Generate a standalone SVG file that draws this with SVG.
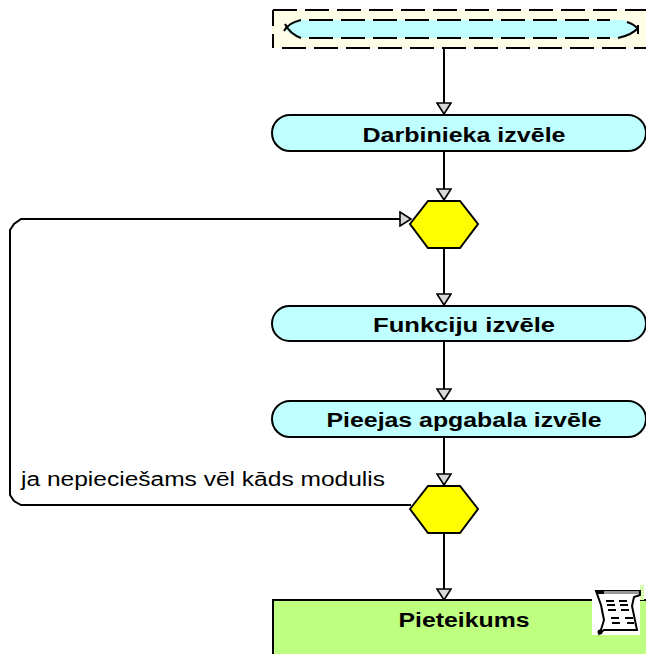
<svg xmlns="http://www.w3.org/2000/svg" width="646" height="654" viewBox="0 0 646 654">
<style>
.pill{fill:#bfffff;stroke:#000;stroke-width:2}
.hex{fill:#ffff00;stroke:#000;stroke-width:2;stroke-linejoin:miter}
.c{fill:none;stroke:#000;stroke-width:2}
.t{font-family:"Liberation Sans",Arial,sans-serif;font-weight:bold;font-size:20px;text-anchor:middle;fill:#000}
.l{font-family:"Liberation Sans",Arial,sans-serif;font-size:20px;fill:#000}
.d{fill:none;stroke:#000;stroke-width:2;stroke-dasharray:24 8}
</style>
<defs>
<marker id="a" markerUnits="userSpaceOnUse" markerWidth="14" markerHeight="16" refX="12" refY="8" orient="auto">
<path d="M1 1 L12 8 L1 15 Z" fill="#d8d8d8" stroke="#000" stroke-width="1.6"/>
</marker>
</defs>
<g id="connectors">
<path class="c" d="M444 49V114" marker-end="url(#a)"/>
<path class="c" d="M444 152V200" marker-end="url(#a)"/>
<path class="c" d="M444 249V305" marker-end="url(#a)"/>
<path class="c" d="M444 341V400" marker-end="url(#a)"/>
<path class="c" d="M444 437V485" marker-end="url(#a)"/>
<path class="c" d="M444 534V600" marker-end="url(#a)"/>
<path class="c" d="M411 505H21L14 501L10 495V230L14 224L21 219H411" marker-end="url(#a)"/>
</g>
<g id="start">
<rect x="272" y="10" width="374" height="38" fill="#ffffe8"/>
<path d="M300 20H624Q634 23 638 29Q632 35 618 38H300Q290 35 285 29Q290 23 300 20Z" fill="#bfffff"/>
<path class="d" d="M273 10H646"/>
<path class="d" d="M282 48H646"/>
<path class="d" d="M273 10V48" stroke-dashoffset="8"/>
<path class="d" d="M309 20H610"/>
<path class="d" d="M309 38H610" />
<path class="c" d="M301 20Q288 23 284 31M285 24Q290 34 301 38M618 38Q632 35 638 28M627 22Q634 24 638 29M638 25V34"/>
</g>
<g id="n1"><rect class="pill" x="272" y="115" width="374" height="36" rx="18"/><text class="t" x="464" y="142" textLength="203" lengthAdjust="spacingAndGlyphs">Darbinieka izvēle</text></g>
<g id="d1"><polygon class="hex" points="410,224 428,201 460,201 478,224 460,248 428,248"/></g>
<g id="n2"><rect class="pill" x="272" y="306" width="374" height="35" rx="17.5"/><text class="t" x="464" y="332" textLength="182" lengthAdjust="spacingAndGlyphs">Funkciju izvēle</text></g>
<g id="n3"><rect class="pill" x="272" y="401" width="374" height="36" rx="18"/><text class="t" x="464" y="427" textLength="275" lengthAdjust="spacingAndGlyphs">Pieejas apgabala izvēle</text></g>
<g id="d2"><polygon class="hex" points="410,509 428,486 460,486 478,509 460,533 428,533"/></g>
<text class="l" x="21" y="486" textLength="364" lengthAdjust="spacingAndGlyphs">ja nepieciešams vēl kāds modulis</text>
<g id="n4">
<rect x="273" y="600" width="373" height="54" fill="#bfff80"/>
<path class="c" d="M273 654V600H646"/>
<text class="t" x="464" y="627" textLength="131" lengthAdjust="spacingAndGlyphs">Pieteikums</text>
<rect x="640" y="585" width="4" height="15" fill="#d8ffb0"/>
<rect x="592" y="588" width="48" height="47" fill="#fff"/>
<path d="M596 591H640V595L634 597L632 606L637 630H604L600 633L604 620L601 605Z" fill="#fff" stroke="#000" stroke-width="2"/>
<path d="M597 592.500H639" stroke="#999" stroke-width="3"/>
<path d="M596 592.500H604" stroke="#000" stroke-width="3"/>
<circle cx="600" cy="632" r="2.500" fill="#000"/>
<path d="M606 601H614M619 601H627M607 605H615M620 605H628M608 610H616M621 610H629M611 618H619M625 618H633M612 623H620M627 623H634" stroke="#000" stroke-width="2"/>
</g>
</svg>
